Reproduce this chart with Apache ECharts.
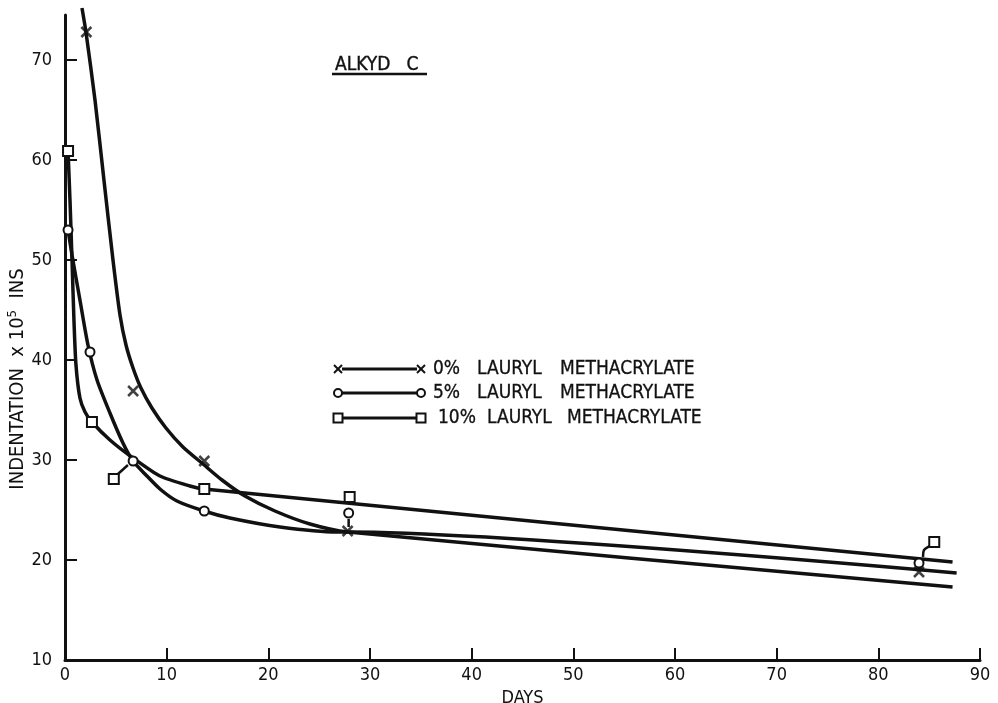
<!DOCTYPE html>
<html>
<head>
<meta charset="utf-8">
<script src="https://cdn.jsdelivr.net/npm/echarts@6/dist/echarts.min.js"></script>
<style>
html,body{margin:0;padding:0;background:#fff;}
#chart{width:998px;height:703px;}
</style>
</head>
<body>
<div id="chart"></div>
<script>
// ---- tick labels ----
const xTicks = [0, 10, 20, 30, 40, 50, 60, 70, 80, 90];
const yTicks = [10, 20, 30, 40, 50, 60, 70];

// ---- series names ----
const seriesNames = ['0%  LAURYL  METHACRYLATE', '5%  LAURYL  METHACRYLATE', '10%  LAURYL  METHACRYLATE'];

// ---- measured points (days, indentation x10^5 ins) ----
const pts0 = [[2.1, 72.8], [6.7, 36.9], [13.7, 29.9], [27.8, 22.9], [84, 18.8]];
const pts5 = [[0.3, 53], [2.46, 40.8], [6.7, 29.9], [13.7, 24.9], [27.9, 24.7], [84, 19.7]];
const pts10 = [[0.3, 60.9], [2.65, 33.8], [4.8, 28.1], [13.7, 27.1], [28, 26.3], [85.5, 21.8]];

// ---- fitted (hand-drawn) curves ----
const curve0 = [[1.67, 75.2], [2.06, 72.8], [2.95, 66], [3.83, 58], [4.72, 50], [5.41, 44.5], [6.0, 41.5], [6.69, 39.2], [7.47, 37.2], [8.55, 35.2], [9.93, 33.2], [11.6, 31.3], [13.57, 29.6], [15.44, 28], [17.7, 26.4], [20.65, 24.9], [24.09, 23.6], [27.83, 22.8], [87.3, 17.3]];
const curve5 = [[0.3, 53], [0.69, 50.5], [1.47, 46], [2.26, 41.5], [3.15, 38], [4.42, 34.7], [5.70, 31.7], [6.69, 29.9], [7.87, 28.6], [9.34, 27.1], [11.01, 25.9], [13.67, 24.9], [16.22, 24.2], [21.14, 23.3], [26.75, 22.8], [27.83, 22.8], [87.7, 18.7]];
const curve10 = [[0.3, 60.9], [0.49, 56], [0.69, 50], [0.88, 44], [1.08, 39.5], [1.47, 36.2], [1.97, 34.8], [2.65, 33.8], [4.42, 32], [6.69, 30.2], [9.34, 28.4], [12.29, 27.4], [13.67, 27.1], [87.3, 19.8]];

// ---- leader strokes tying displaced points to their curve ----
const leaderA = [[5.21, 28.6], [6.19, 29.5]];
const leaderB = [[27.9, 24.1], [27.9, 23.3]];
const leaderC = [[85.3, 21.5], [84.5, 21.0], [84.4, 20.3]];

const FONT = '"DejaVu Sans Condensed", "Liberation Sans Narrow", "DejaVu Sans", sans-serif';
const BLACK = '#111';
const crossPath = 'path://M0,0L10,10M10,0L0,10';

const chart = echarts.init(document.getElementById('chart'), null, {renderer: 'canvas'});

function curveSeries(data) {
  return {
    type: 'line', data: data, showSymbol: false, symbol: 'none',
    smooth: 0.25, clip: false,
    lineStyle: {color: BLACK, width: 3.5}, z: 2, silent: true
  };
}
function leaderSeries(data) {
  return {
    type: 'line', data: data, showSymbol: false, symbol: 'none', smooth: 0.3,
    lineStyle: {color: BLACK, width: 2.5}, z: 2, silent: true
  };
}

// legend drawn as graphics: marker — line — marker + text
const legendRows = [
  {y: 369, sym: 'x', words: ['0%', 'LAURYL', 'METHACRYLATE'], xs: [433, 477, 560]},
  {y: 393, sym: 'o', words: ['5%', 'LAURYL', 'METHACRYLATE'], xs: [433, 477, 560]},
  {y: 418, sym: 's', words: ['10%', 'LAURYL', 'METHACRYLATE'], xs: [438, 487, 567]}
];
function legendSymbol(sym, cx, cy) {
  if (sym === 'x') {
    return [
      {type: 'line', shape: {x1: cx - 4, y1: cy - 4, x2: cx + 4, y2: cy + 4}, style: {stroke: BLACK, lineWidth: 2}},
      {type: 'line', shape: {x1: cx + 4, y1: cy - 4, x2: cx - 4, y2: cy + 4}, style: {stroke: BLACK, lineWidth: 2}}
    ];
  } else if (sym === 'o') {
    return [{type: 'circle', shape: {cx: cx, cy: cy, r: 4}, style: {fill: '#fff', stroke: BLACK, lineWidth: 2}}];
  }
  return [{type: 'rect', shape: {x: cx - 4.5, y: cy - 4.5, width: 9, height: 9}, style: {fill: '#fff', stroke: BLACK, lineWidth: 2}}];
}
const graphics = [];
legendRows.forEach(function (r) {
  graphics.push({type: 'line', shape: {x1: 342, y1: r.y, x2: 417, y2: r.y}, style: {stroke: BLACK, lineWidth: 3}});
  legendSymbol(r.sym, 338, r.y).forEach(function (g) { graphics.push(g); });
  legendSymbol(r.sym, 421, r.y).forEach(function (g) { graphics.push(g); });
  r.words.forEach(function (w, i) {
    graphics.push({type: 'text', x: r.xs[i], y: r.y, style: {text: w, fill: BLACK, font: '19px ' + FONT, verticalAlign: 'middle', stroke: BLACK, lineWidth: 0.3}});
  });
});
// title with underline
graphics.push({type: 'text', x: 335, y: 65, style: {text: 'ALKYD   C', fill: BLACK, font: '19px ' + FONT, verticalAlign: 'middle', stroke: BLACK, lineWidth: 0.4}});
graphics.push({type: 'line', shape: {x1: 332, y1: 74, x2: 427, y2: 74}, style: {stroke: BLACK, lineWidth: 2.5}});
// y-axis title
graphics.push({
  type: 'text', x: 18, y: 379, rotation: Math.PI / 2,
  style: {
    text: 'INDENTATION  x 10{sup|5}  INS', fill: BLACK, font: '20px ' + FONT,
    align: 'center', verticalAlign: 'middle',
    rich: {sup: {fontSize: 13, fontFamily: FONT, verticalAlign: 'top', padding: [0, 0, 10, 0], fill: BLACK}}
  }
});

const option = {
  animation: false,
  backgroundColor: '#fff',
  grid: {left: 65, right: 18, top: 15, bottom: 43, containLabel: false, outerBoundsMode: 'none'},
  xAxis: {
    type: 'value', min: 0, max: 90, interval: 10,
    axisLine: {lineStyle: {color: BLACK, width: 3}},
    axisTick: {inside: true, length: 12, lineStyle: {color: BLACK, width: 2}},
    axisLabel: {color: BLACK, fontSize: 18, fontFamily: FONT, margin: 6},
    splitLine: {show: false},
    name: 'DAYS', nameLocation: 'middle', nameGap: 24,
    nameTextStyle: {color: BLACK, fontSize: 18, fontFamily: FONT, verticalAlign: 'top'}
  },
  yAxis: {
    type: 'value', min: 10, max: 74.5, interval: 10,
    axisLine: {lineStyle: {color: BLACK, width: 3}},
    axisTick: {inside: true, length: 12, lineStyle: {color: BLACK, width: 2}, customValues: yTicks},
    axisLabel: {color: BLACK, fontSize: 18, fontFamily: FONT, margin: 13, customValues: yTicks},
    splitLine: {show: false}
  },
  graphic: graphics,
  series: [
    curveSeries(curve0),
    curveSeries(curve5),
    curveSeries(curve10),
    leaderSeries(leaderA),
    leaderSeries(leaderB),
    leaderSeries(leaderC),
    {name: seriesNames[0], type: 'scatter', data: pts0, symbol: crossPath, symbolSize: 10, z: 5,
     itemStyle: {color: 'rgba(0,0,0,0)', borderColor: BLACK, borderWidth: 2.5}},
    {name: seriesNames[1], type: 'scatter', data: pts5, symbol: 'circle', symbolSize: 9, z: 5,
     itemStyle: {color: '#fff', borderColor: BLACK, borderWidth: 2, opacity: 1}},
    {name: seriesNames[2], type: 'scatter', data: pts10, symbol: 'rect', symbolSize: 10, z: 5,
     itemStyle: {color: '#fff', borderColor: BLACK, borderWidth: 2, opacity: 1}}
  ]
};
chart.setOption(option);
</script>
</body>
</html>
